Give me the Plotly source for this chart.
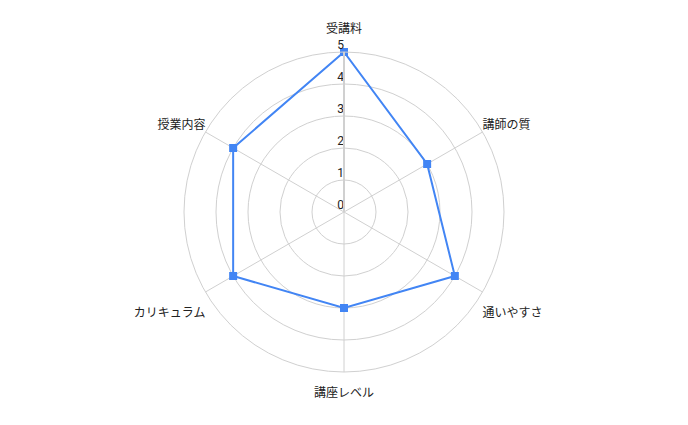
import plotly.graph_objects as go

# レーダーチャートのデータ
categories = ["受講料", "講師の質", "通いやすさ", "講座レベル", "カリキュラム", "授業内容"]
scores = [5, 3, 4, 3, 4, 4]
tick_values = [0, 1, 2, 3, 4, 5]
tick_labels = ["0", "1", "2", "3", "4", "5"]

line_color = "#4285f4"
grid_color = "#d0d0d0"
text_color = "#222222"

# 項目ラベルの位置（外周の外側）
label_pos = ["top center", "top right", "bottom right",
             "bottom center", "bottom left", "top left"]


def label_text(name, pos):
    # 上下のラベルは空行で外周から少し離す
    if pos == "top center":
        return name + "<br> "
    if pos.startswith("bottom"):
        return " <br>" + name
    return name


fig = go.Figure()

fig.add_trace(go.Scatterpolar(
    r=scores + scores[:1],
    theta=categories + categories[:1],
    mode="lines+markers",
    line=dict(color=line_color, width=2),
    marker=dict(symbol="square", size=8, color=line_color),
    showlegend=False
))

# 目盛りラベル（軸の上に表示）
fig.add_trace(go.Scatterpolar(
    r=tick_values,
    theta=[categories[0]] * len(tick_values),
    mode="text",
    text=tick_labels,
    textposition="top left",
    textfont=dict(size=12, color=text_color),
    hoverinfo="skip",
    showlegend=False
))

# 項目名ラベル
fig.add_trace(go.Scatterpolar(
    r=[tick_values[-1]] * len(categories),
    theta=categories,
    mode="text",
    text=[label_text(c, p) for c, p in zip(categories, label_pos)],
    textposition=label_pos,
    textfont=dict(size=12, color=text_color),
    cliponaxis=False,
    hoverinfo="skip",
    showlegend=False
))

# ページ本体の余白(8px)を考慮して左右・上下をずらす
fig.update_layout(
    width=688,
    height=425,
    margin=dict(l=176, r=192, t=44, b=61),
    paper_bgcolor="white",
    font=dict(family="Roboto, 'Noto Sans CJK JP', sans-serif", size=12, color=text_color),
    polar=dict(
        bgcolor="white",
        radialaxis=dict(
            range=[0, 5],
            tickvals=tick_values,
            showticklabels=False,
            ticks="",
            showline=True,
            linecolor=grid_color,
            linewidth=2,
            angle=90,
            gridcolor=grid_color,
            gridwidth=1
        ),
        angularaxis=dict(
            direction="clockwise",
            rotation=90,
            gridcolor=grid_color,
            linecolor=grid_color,
            showticklabels=False,
            ticks=""
        )
    )
)

fig.write_html("out.html")
